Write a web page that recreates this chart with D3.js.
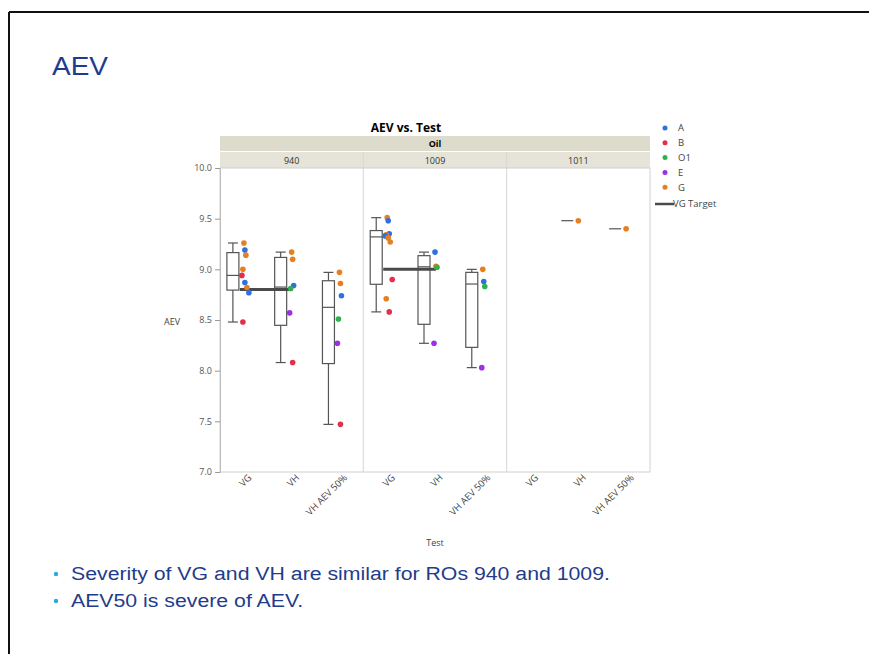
<!DOCTYPE html>
<html>
<head>
<meta charset="utf-8">
<script src="https://cdn.jsdelivr.net/npm/d3@7"></script>
<style>
  body { margin: 0; background: #fff; }
  svg { display: block; }
</style>
</head>
<body>
<div id="chart"></div>
<script>
// ----------------------------------------------------------------
// data
// ----------------------------------------------------------------
const oils = ["940", "1009", "1011"];
const tests = ["VG", "VH", "VH AEV 50%"];
const groups = ["A", "B", "O1", "E", "G"];
const groupColors = ["#2f6fe0", "#e0304a", "#2db34a", "#9b30e6", "#e67e22"];

// [group, AEV]
const oil940VG = [["G", 9.26], ["A", 9.19], ["G", 9.14], ["G", 9.00], ["B", 8.94], ["A", 8.87], ["G", 8.82], ["A", 8.77], ["B", 8.48]];
const oil940VH = [["G", 9.17], ["G", 9.10], ["A", 8.84], ["O1", 8.81], ["E", 8.57], ["B", 8.08]];
const oil940VH50 = [["G", 8.97], ["G", 8.86], ["A", 8.74], ["O1", 8.51], ["E", 8.27], ["B", 7.47]];
const oil1009VG = [["G", 9.51], ["A", 9.48], ["A", 9.35], ["G", 9.34], ["A", 9.33], ["G", 9.31], ["G", 9.27], ["B", 8.90], ["G", 8.71], ["B", 8.58]];
const oil1009VH = [["A", 9.17], ["G", 9.03], ["O1", 9.02], ["E", 8.27]];
const oil1009VH50 = [["G", 9.00], ["A", 8.88], ["O1", 8.83], ["E", 8.03]];
const oil1011VG = [];
const oil1011VH = [["G", 9.48]];
const oil1011VH50 = [["G", 9.40]];

// VG target per oil
const vgTarget = [8.80, 9.00, null];

const yTicks = [7.0, 7.5, 8.0, 8.5, 9.0, 9.5, 10.0];

const cells = [
    [oil940VG, oil940VH, oil940VH50],
    [oil1009VG, oil1009VH, oil1009VH50],
    [oil1011VG, oil1011VH, oil1011VH50]
];

// ----------------------------------------------------------------
const width = 869, height = 654;
const plot = { left: 220, right: 650, top: 168, bottom: 472 };
const blue = "#1f3c8c";
const chartFont = "'Open Sans', 'DejaVu Sans', sans-serif";
const slideFont = "'Liberation Sans', Arial, sans-serif";

const svg = d3.select("#chart").append("svg")
    .attr("width", width)
    .attr("height", height);

// slide frame
svg.append("line").attr("x1", 9).attr("x2", width).attr("y1", 12).attr("y2", 12)
    .attr("stroke", "#111").attr("stroke-width", 2);
svg.append("line").attr("x1", 9).attr("x2", 9).attr("y1", 12).attr("y2", height)
    .attr("stroke", "#111").attr("stroke-width", 2);

// slide title (slide is stretched a bit horizontally)
svg.append("text")
    .attr("transform", "translate(52,75) scale(1.12,1)")
    .style("font-family", slideFont)
    .style("font-size", "25px")
    .attr("fill", blue)
    .text("AEV");

// bullets
const bullets = ["Severity of VG and VH are similar for ROs 940 and 1009.", "AEV50 is severe of AEV."];
const bul = svg.append("g").selectAll("g").data(bullets).enter().append("g")
    .attr("transform", (d, i) => "translate(0," + (580 + i * 27) + ")");
bul.append("circle").attr("cx", 56).attr("cy", -6).attr("r", 2.2).attr("fill", "#2ea7df");
bul.append("text")
    .attr("transform", "translate(71,0) scale(1.12,1)")
    .style("font-family", slideFont)
    .style("font-size", "19px")
    .attr("fill", blue)
    .text(d => d);

// scales
const y = d3.scaleLinear().domain([7, 10]).range([plot.bottom, plot.top]);
const xOil = d3.scaleBand().domain(oils).range([plot.left, plot.right]);
const xTest = d3.scaleBand().domain(tests).range([0, xOil.bandwidth()]);
const color = d3.scaleOrdinal().domain(groups).range(groupColors);

// chart title + header bands
svg.append("text")
    .attr("x", 406).attr("y", 132)
    .attr("text-anchor", "middle")
    .style("font-family", chartFont).style("font-size", "12px").style("font-weight", "bold")
    .text("AEV vs. Test");

svg.append("rect").attr("x", plot.left).attr("y", 136).attr("width", plot.right - plot.left).attr("height", 15)
    .attr("fill", "#dddbcc");
svg.append("text")
    .attr("x", (plot.left + plot.right) / 2).attr("y", 147)
    .attr("text-anchor", "middle")
    .style("font-family", chartFont).style("font-size", "9px").style("font-weight", "bold")
    .text("Oil");

svg.append("g").selectAll("rect").data(oils).enter().append("rect")
    .attr("x", d => xOil(d)).attr("y", 152)
    .attr("width", xOil.bandwidth()).attr("height", plot.top - 152)
    .attr("fill", "#e6e4d8");
svg.append("g").selectAll("text").data(oils).enter().append("text")
    .attr("x", d => xOil(d) + xOil.bandwidth() / 2).attr("y", 164)
    .attr("text-anchor", "middle")
    .style("font-family", chartFont).style("font-size", "9px")
    .attr("fill", "#333")
    .text(d => d);

// plot frame and panel dividers
svg.append("rect")
    .attr("x", plot.left).attr("y", plot.top)
    .attr("width", plot.right - plot.left).attr("height", plot.bottom - plot.top)
    .attr("fill", "none").attr("stroke", "#d0d0d0");
svg.append("g").selectAll("line").data(oils.slice(1)).enter().append("line")
    .attr("x1", d => xOil(d)).attr("x2", d => xOil(d))
    .attr("y1", 152).attr("y2", plot.bottom)
    .attr("stroke", "#d6d6d6");

// y axis
const yAxis = svg.append("g")
    .attr("transform", "translate(" + plot.left + ",0)")
    .call(d3.axisLeft(y).tickValues(yTicks).tickFormat(d3.format(".1f")).tickSize(5));
yAxis.select(".domain").attr("stroke", "#bbb");
yAxis.selectAll(".tick line").attr("stroke", "#999");
yAxis.selectAll("text")
    .style("font-family", chartFont).style("font-size", "9px")
    .attr("fill", "#555");

svg.append("text")
    .attr("x", 172).attr("y", 325)
    .attr("text-anchor", "middle")
    .style("font-family", chartFont).style("font-size", "9px")
    .attr("fill", "#444")
    .text("AEV");

// x labels (rotated)
const xLabels = [];
oils.forEach(o => tests.forEach(t => xLabels.push({ oil: o, test: t })));
svg.append("g").selectAll("text").data(xLabels).enter().append("text")
    .attr("transform", d => "translate(" + (xOil(d.oil) + xTest(d.test) + xTest.bandwidth() / 2 + 6) + "," + 476 + ") rotate(-45)")
    .attr("text-anchor", "end")
    .attr("dy", "0.35em")
    .style("font-family", chartFont).style("font-size", "9.5px")
    .attr("fill", "#444")
    .text(d => d.test);

svg.append("text")
    .attr("x", (plot.left + plot.right) / 2).attr("y", 546)
    .attr("text-anchor", "middle")
    .style("font-family", chartFont).style("font-size", "9px")
    .attr("fill", "#444")
    .text("Test");

// quantile like JMP: (n+1)p
function quant(sorted, p) {
    const n = sorted.length;
    let h = (n + 1) * p;
    if (h <= 1) return sorted[0];
    if (h >= n) return sorted[n - 1];
    const lo = Math.floor(h);
    return sorted[lo - 1] + (h - lo) * (sorted[lo] - sorted[lo - 1]);
}

const boxW = 12;
const jitter = [0, 1, 2, -1, -2, 1, 3, 5, -1, 2];
const body = svg.append("g");

oils.forEach(function (oil, oi) {
    tests.forEach(function (test, ti) {
        const pts = cells[oi][ti];
        if (!pts.length) return;
        const cx = xOil(oil) + xTest(test) + xTest.bandwidth() / 2;
        const bx = cx - 11;
        const vals = pts.map(p => p[1]).sort(d3.ascending);
        const q1 = quant(vals, 0.25), med = quant(vals, 0.5), q3 = quant(vals, 0.75);
        const iqr = q3 - q1;
        const lo = d3.min(vals.filter(v => v >= q1 - 1.5 * iqr));
        const hi = d3.max(vals.filter(v => v <= q3 + 1.5 * iqr));
        const g = body.append("g").attr("stroke", "#555").attr("fill", "none").attr("stroke-width", 1.2);
        if (vals.length > 1) {
            g.append("line").attr("x1", bx).attr("x2", bx).attr("y1", y(hi)).attr("y2", y(q3));
            g.append("line").attr("x1", bx).attr("x2", bx).attr("y1", y(q1)).attr("y2", y(lo));
            g.append("line").attr("x1", bx - 5).attr("x2", bx + 5).attr("y1", y(hi)).attr("y2", y(hi));
            g.append("line").attr("x1", bx - 5).attr("x2", bx + 5).attr("y1", y(lo)).attr("y2", y(lo));
            g.append("rect").attr("x", bx - boxW / 2).attr("y", y(q3))
                .attr("width", boxW).attr("height", y(q1) - y(q3));
        }
        g.append("line").attr("x1", bx - boxW / 2).attr("x2", bx + boxW / 2)
            .attr("y1", y(med)).attr("y2", y(med));
    });

    // VG target line
    if (vgTarget[oi] != null) {
        const x0 = xOil(oil) + xTest("VG") + xTest.bandwidth() / 2 - 4;
        const x1 = xOil(oil) + xTest("VH") + xTest.bandwidth() / 2 + 1;
        body.append("line")
            .attr("x1", x0).attr("x2", x1)
            .attr("y1", y(vgTarget[oi])).attr("y2", y(vgTarget[oi]))
            .attr("stroke", "#4a4a4a").attr("stroke-width", 3);
    }
});

// points
oils.forEach(function (oil, oi) {
    tests.forEach(function (test, ti) {
        const pts = cells[oi][ti];
        const cx = xOil(oil) + xTest(test) + xTest.bandwidth() / 2;
        body.append("g").selectAll("circle").data(pts).enter().append("circle")
            .attr("cx", (d, i) => cx + jitter[i % jitter.length])
            .attr("cy", d => y(d[1]))
            .attr("r", 2.8)
            .attr("fill", d => color(d[0]));
    });
});

// legend
const legend = svg.append("g").selectAll("g").data(groups).enter().append("g")
    .attr("transform", (d, i) => "translate(665," + (128 + i * 14.8) + ")");
legend.append("circle").attr("r", 2.5).attr("fill", d => color(d));
legend.append("text")
    .attr("x", 13).attr("dy", "0.35em")
    .style("font-family", chartFont).style("font-size", "9.5px")
    .attr("fill", "#444")
    .text(d => d);
const tgt = svg.append("g").attr("transform", "translate(655,204)");
tgt.append("line").attr("x1", 0).attr("x2", 19).attr("stroke", "#4a4a4a").attr("stroke-width", 2.5);
tgt.append("text").attr("x", 18).attr("dy", "0.35em")
    .style("font-family", chartFont).style("font-size", "9.5px")
    .attr("fill", "#444")
    .text("VG Target");
</script>
</body>
</html>
